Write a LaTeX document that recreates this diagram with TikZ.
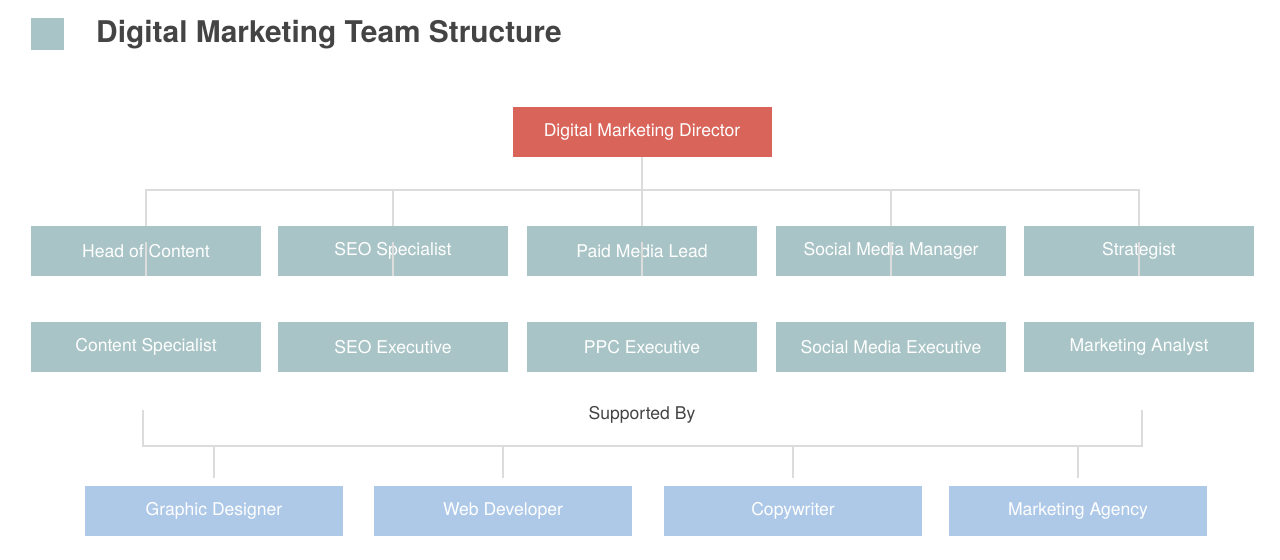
\documentclass[tikz,border=0pt]{standalone}
\usepackage{fontspec}
\setmainfont{TeX Gyre Heros}
\usetikzlibrary{positioning}
\definecolor{teal}{HTML}{A9C4C6}
\definecolor{coral}{HTML}{D9645A}
\definecolor{sky}{HTML}{AEC9E8}
\definecolor{wire}{HTML}{DCDCDC}
\definecolor{ink}{HTML}{444444}
\tikzset{
  role/.style={fill=teal,minimum width=230*0.02cm,minimum height=50*0.02cm,
    text=white,font=\fontsize{10}{12}\selectfont,inner sep=0pt},
  helper/.style={role,fill=sky,minimum width=258*0.02cm},
  link/.style={draw=wire,line width=1pt}
}
\begin{document}
\begin{tikzpicture}[x=0.02cm,y=-0.02cm]
  \useasboundingbox (0,0) rectangle (1280,560);
  \fill[teal] (31,18) rectangle (64,50);
  \node[anchor=west,text=ink,font=\fontsize{17}{20}\selectfont\bfseries] (title) at (90,35) {Digital Marketing Team Structure};
  % director
  \node[role,fill=coral,minimum width=259*0.02cm] (dir) at (642,132) {Digital Marketing Director};
  \draw[link] (dir.south) -- (642,190);
  \draw[link] (146,218) -- (146,190) -- (1139,190) -- (1139,218);
  % leads and their staff
  \foreach \x/\lead/\staff [count=\i] in {146/Head of Content/Content Specialist,
      393/SEO Specialist/SEO Executive, 642/Paid Media Lead/PPC Executive,
      891/Social Media Manager/Social Media Executive, 1139/Strategist/Marketing Analyst}{
    \node[role] (lead\i) at (\x,251) {\lead};
    \node[role] (staff\i) at (\x,347) {\staff};
    \coordinate (top\i) at (\x,190);
    \draw[link] (top\i) -- (lead\i.north);
    \draw[link] (lead\i.south) -- ++(0,-34);
  }
  % support
  \node[text=ink,font=\fontsize{10}{12}\selectfont] (sup) at (642,415) {Supported By};
  \draw[link] (143,410) -- (143,446) -- (1142,446) -- (1142,410);
  \foreach \x/\name [count=\i] in {214/Graphic Designer, 503/Web Developer,
      793/Copywriter, 1078/Marketing Agency}{
    \node[helper] (help\i) at (\x,511) {\name};
    \coordinate (bar\i) at (\x,446);
    \draw[link] (bar\i) -- ++(0,32);
  }
\end{tikzpicture}
\end{document}
